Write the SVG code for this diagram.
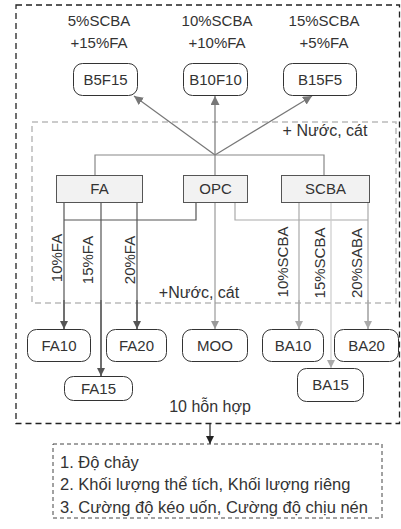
<svg xmlns="http://www.w3.org/2000/svg" width="401" height="529" viewBox="0 0 401 529">
<defs>
<style>
text{font-family:"Liberation Sans",Arial,sans-serif;font-size:15px;fill:#333}
.c{text-anchor:middle}
.big{font-size:16px}
.res{font-size:16.5px}
.node{fill:#fff;stroke:#333;stroke-width:1}
.src{fill:#f2f2f2;stroke:#555;stroke-width:1}
.ln{fill:none;stroke-width:1.2}
</style>
<marker id="aG" viewBox="0 0 10 10" refX="10" refY="5" markerWidth="9" markerHeight="9" markerUnits="userSpaceOnUse" orient="auto"><path d="M0,0L10,5L0,10z" fill="#777"/></marker>
<marker id="aD" viewBox="0 0 10 10" refX="10" refY="5" markerWidth="8" markerHeight="8" markerUnits="userSpaceOnUse" orient="auto"><path d="M0,0L10,5L0,10z" fill="#555"/></marker>
<marker id="aM" viewBox="0 0 10 10" refX="10" refY="5" markerWidth="8" markerHeight="8" markerUnits="userSpaceOnUse" orient="auto"><path d="M0,0L10,5L0,10z" fill="#999"/></marker>
<marker id="aL" viewBox="0 0 10 10" refX="10" refY="5" markerWidth="8" markerHeight="8" markerUnits="userSpaceOnUse" orient="auto"><path d="M0,0L10,5L0,10z" fill="#aaa"/></marker>
<marker id="aK" viewBox="0 0 10 10" refX="10" refY="5" markerWidth="8" markerHeight="8" markerUnits="userSpaceOnUse" orient="auto"><path d="M0,0L10,5L0,10z" fill="#222"/></marker>
</defs>
<rect width="401" height="529" fill="#fff"/>
<g id="frames">
<rect x="16" y="5" width="383.5" height="418.5" fill="none" stroke="#222" stroke-width="1.3" stroke-dasharray="6,4"/>
<rect x="32" y="122" width="364" height="181" fill="none" stroke="#bbb" stroke-width="1.5" stroke-dasharray="6,4"/>
<text class="c big" x="325" y="136">+ Nước, cát</text>
<text class="c big" x="199" y="298">+Nước, cát</text>
<text class="c big" x="210" y="412">10 hỗn hợp</text>
</g>
<g id="labels-top">
<text class="c" x="99" y="26">5%SCBA</text>
<text class="c" x="99" y="48">+15%FA</text>
<text class="c" x="217" y="26">10%SCBA</text>
<text class="c" x="217" y="48">+10%FA</text>
<text class="c" x="324" y="26">15%SCBA</text>
<text class="c" x="324" y="48">+5%FA</text>
</g>
<g id="connectors">
<path class="ln" stroke="#777" d="M215,155L215,96" marker-end="url(#aG)"/>
<path class="ln" stroke="#777" d="M215,155L312,96" marker-end="url(#aG)"/>
<path class="ln" stroke="#777" d="M215,155L134,96" marker-end="url(#aG)"/>
<path class="ln" stroke="#888" stroke-width="1" d="M95,175V155H324V175M215,155V175"/>
<path class="ln" stroke="#555" d="M64,202V329M101,202V376M137,202V329M64,220H196V202"/>
<path class="ln" stroke="#555" d="M64,300V329" marker-end="url(#aD)"/>
<path class="ln" stroke="#555" d="M101,300V376" marker-end="url(#aD)"/>
<path class="ln" stroke="#555" d="M137,300V329" marker-end="url(#aD)"/>
<path class="ln" stroke="#999" d="M215,202V329" marker-end="url(#aM)"/>
<path class="ln" stroke="#aaa" d="M235,202V220H368M299,202V329M368,202V329"/>
<path class="ln" stroke="#aaa" d="M299,300V329" marker-end="url(#aL)"/>
<path class="ln" stroke="#aaa" d="M368,300V329" marker-end="url(#aL)"/>
<path class="ln" stroke="#ccc" d="M331,202V368" marker-end="url(#aL)"/>
<path class="ln" stroke="#222" d="M210,424V444" marker-end="url(#aK)"/>
</g>
<g id="rot-labels">
<text class="c" transform="translate(62,258) rotate(-90)">10%FA</text>
<text class="c" transform="translate(93,260) rotate(-90)">15%FA</text>
<text class="c" transform="translate(135,260) rotate(-90)">20%FA</text>
<text class="c" transform="translate(288,262) rotate(-90)">10%SCBA</text>
<text class="c" transform="translate(325,263) rotate(-90)">15%SCBA</text>
<text class="c" transform="translate(362,263) rotate(-90)">20%SABA</text>
</g>
<g id="B5F15"><rect class="node" x="73.5" y="63.5" width="64" height="32" rx="9"/><text class="c" x="105.5" y="85">B5F15</text></g>
<g id="B10F10"><rect class="node" x="183.5" y="63.5" width="64" height="32" rx="9"/><text class="c" x="215.5" y="85">B10F10</text></g>
<g id="B15F5"><rect class="node" x="283.5" y="63.5" width="73" height="32" rx="9"/><text class="c" x="320" y="85">B15F5</text></g>
<g id="FA"><rect class="src" x="56.5" y="175.5" width="86" height="27"/><text class="c" x="99.5" y="194">FA</text></g>
<g id="OPC"><rect class="src" x="183.5" y="175.5" width="64" height="27"/><text class="c" x="215.5" y="194">OPC</text></g>
<g id="SCBA"><rect class="src" x="281.5" y="175.5" width="88" height="27"/><text class="c" x="325.5" y="194">SCBA</text></g>
<g id="FA10"><rect class="node" x="27.5" y="329.5" width="63" height="32" rx="9"/><text class="c" x="59" y="351">FA10</text></g>
<g id="FA20"><rect class="node" x="106.5" y="329.5" width="60" height="32" rx="9"/><text class="c" x="136.5" y="351">FA20</text></g>
<g id="MOO"><rect class="node" x="182.5" y="329.5" width="65" height="32" rx="9"/><text class="c" x="215" y="351">MOO</text></g>
<g id="BA10"><rect class="node" x="262.5" y="329.5" width="61" height="32" rx="9"/><text class="c" x="293" y="351">BA10</text></g>
<g id="BA20"><rect class="node" x="334.5" y="329.5" width="64" height="32" rx="9"/><text class="c" x="366.5" y="351">BA20</text></g>
<g id="FA15"><rect class="node" x="64.5" y="376.5" width="68" height="24" rx="9"/><text class="c" x="98.5" y="394">FA15</text></g>
<g id="BA15"><rect class="node" x="297.5" y="368.5" width="66" height="33" rx="9"/><text class="c" x="330.5" y="390">BA15</text></g>
<g id="results">
<rect x="53" y="444" width="329" height="74" fill="#fff" stroke="#444" stroke-width="1" stroke-dasharray="4,3"/>
<text class="res" x="60" y="468">1. Độ chảy</text>
<text class="res" x="60" y="490">2. Khối lượng thể tích, Khối lượng riêng</text>
<text class="res" x="60" y="513">3. Cường độ kéo uốn, Cường độ chịu nén</text>
</g>
</svg>
